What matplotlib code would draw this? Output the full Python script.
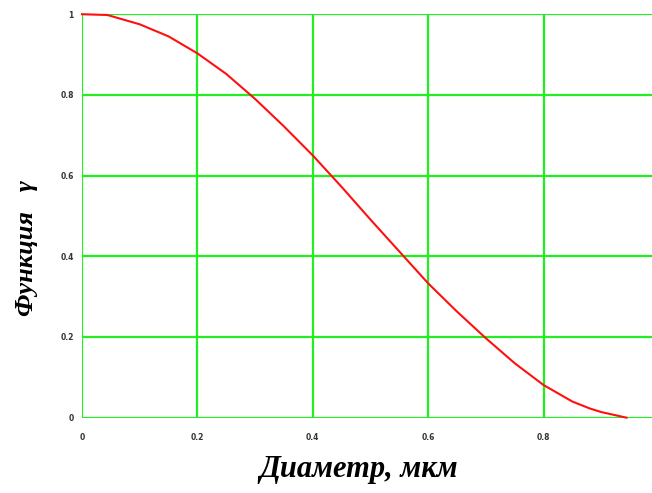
import matplotlib
matplotlib.use("Agg")
import matplotlib.pyplot as plt

# Data
diameter = [0.0, 0.044, 0.1, 0.15, 0.2, 0.25, 0.3, 0.35, 0.4, 0.45, 0.5,
            0.55, 0.6, 0.65, 0.7, 0.75, 0.8, 0.85, 0.88, 0.9, 0.944]
gamma_vals = [1.0, 0.998, 0.975, 0.945, 0.903, 0.852, 0.79, 0.722, 0.65, 0.572, 0.491,
              0.412, 0.333, 0.263, 0.197, 0.135, 0.081, 0.04, 0.023, 0.014, 0.0]
xticks = [0, 0.2, 0.4, 0.6, 0.8]
xtick_labels = ["0", "0.2", "0.4", "0.6", "0.8"]
yticks = [0, 0.2, 0.4, 0.6, 0.8, 1.0]
ytick_labels = ["0", "0.2", "0.4", "0.6", "0.8", "1"]

green = "#22ee22"

fig = plt.figure(figsize=(6.52, 4.93), dpi=100)
ax = fig.add_axes([82/652, 1 - 417.7/493, 1 - 82/652, (417.7 - 14.2)/493])
ax.set_xlim(0, 0.988)
ax.set_ylim(0, 1.0)

for x in xticks:
    ax.axvline(x, color=green, lw=1.6, zorder=1)
for y in yticks:
    ax.axhline(y, color=green, lw=1.6, zorder=1)

ax.plot(diameter, gamma_vals, color="#ff1010", lw=1.5, zorder=3, clip_on=False)

for s in ax.spines.values():
    s.set_visible(False)

ax.set_xticks(xticks)
ax.set_xticklabels(xtick_labels)
ax.set_yticks(yticks)
ax.set_yticklabels(ytick_labels)
ax.tick_params(length=0, labelsize=5.5, labelcolor="#333333")
for lab in ax.get_xticklabels() + ax.get_yticklabels():
    lab.set_fontweight("bold")
ax.tick_params(axis="y", pad=6)
ax.tick_params(axis="x", pad=11)

fig.text(359/652, 1 - 470/493, "Диаметр, мкм", ha="center", va="center",
         fontsize=22, fontweight="bold", fontstyle="italic", family="Liberation Serif")
fig.text(26/652, 1 - 248/493, "Функция   γ", ha="center", va="center", rotation=90,
         fontsize=19, fontweight="bold", fontstyle="italic", family="Liberation Serif")

fig.savefig("out.png", dpi=100, facecolor="white")
